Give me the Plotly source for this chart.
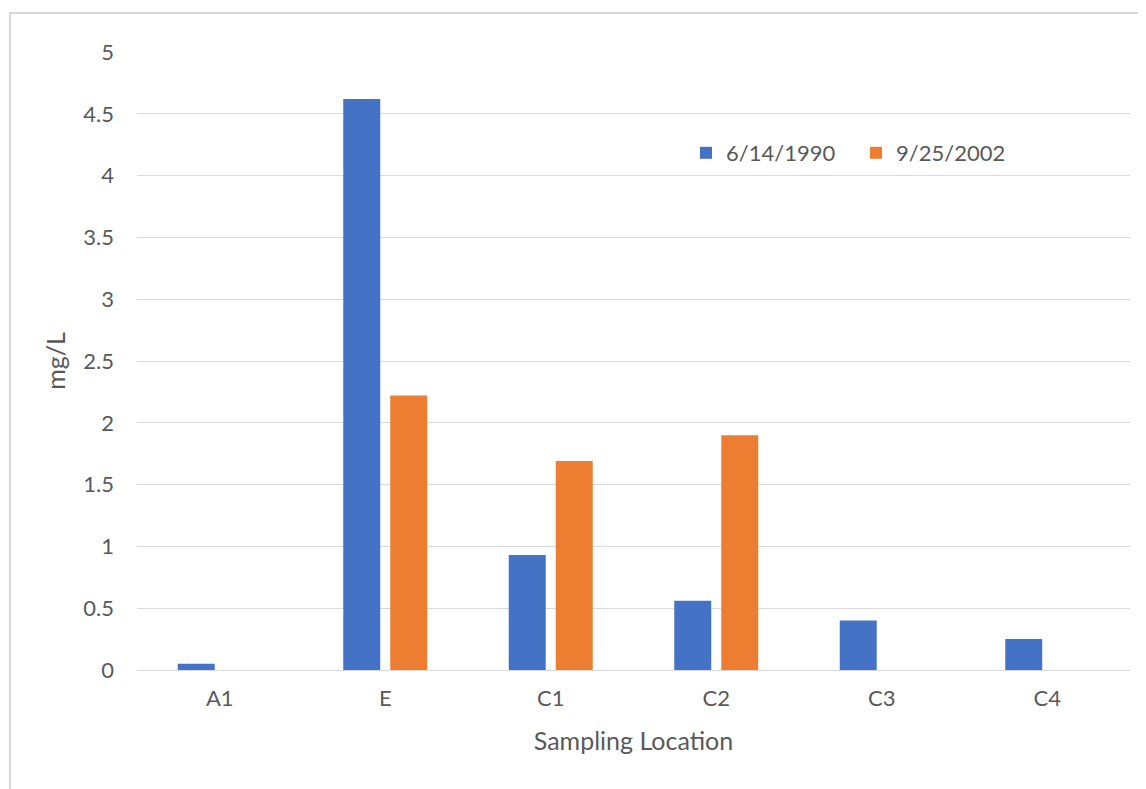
import plotly.graph_objects as go

categories = ["A1", "E", "C1", "C2", "C3", "C4"]
series_1990 = [0.05, 4.62, 0.93, 0.56, 0.40, 0.25]
series_2002 = [None, 2.22, 1.69, 1.90, None, None]
series_names = ["6/14/1990", "9/25/2002"]
y_ticks = [0, 0.5, 1, 1.5, 2, 2.5, 3, 3.5, 4, 4.5, 5]
y_tick_labels = ["0", "0.5", "1", "1.5", "2", "2.5", "3", "3.5", "4", "4.5", "5"]

# page has an 8px body margin; figure is sized/positioned to account for it
OFF = 8
W, H = 1146 - OFF, 789 - OFF
L, R, T, B = 137 - OFF, 16, 52 - OFF, 119
pw, ph = W - L - R, H - T - B

FONT = "Lato"
TXT = "#595959"
GRID = "#d9d9d9"

fig = go.Figure()
fig.add_trace(go.Bar(x=categories, y=series_1990, name=series_names[0],
                     marker=dict(color="#4472C4", line=dict(width=0))))
fig.add_trace(go.Bar(x=categories, y=series_2002, name=series_names[1],
                     marker=dict(color="#ED7D31", line=dict(width=0))))

def px_to_paper_x(px):
    # px in reference-screen coordinates
    return (px - OFF - L) / pw

def px_to_paper_y(py):
    return (H - B - (py - OFF)) / ph

fig.update_layout(
    width=W, height=H,
    margin=dict(l=L, r=R, t=T, b=B, autoexpand=False),
    paper_bgcolor="white", plot_bgcolor="white",
    barmode="group", bargap=0.432, bargroupgap=0.213,
    font=dict(family=FONT, color=TXT, size=22),
    showlegend=True,
    legend=dict(orientation="h", x=px_to_paper_x(686), y=px_to_paper_y(153),
                xanchor="left", yanchor="middle", bgcolor="rgba(0,0,0,0)",
                font=dict(family=FONT, size=22, color=TXT),
                itemwidth=30, entrywidth=125, traceorder="normal"),
    xaxis=dict(showgrid=False, showline=False, ticks="", zeroline=False,
               ticklabelstandoff=13, tickfont=dict(size=22, color=TXT),
               title=dict(text="Sampling Location", font=dict(size=25, color=TXT), standoff=22),
               automargin=False),
    yaxis=dict(range=[0, 5], tickvals=y_ticks, ticktext=y_tick_labels,
               showgrid=True, gridcolor=GRID, gridwidth=1.3,
               zeroline=True, zerolinecolor=GRID, zerolinewidth=1.3,
               showline=False, ticks="", ticklabelstandoff=22,
               tickfont=dict(size=22, color=TXT),
               title=dict(text="mg/L", font=dict(size=25, color=TXT), standoff=10),
               automargin=False),
    shapes=[dict(type="rect", xref="paper", yref="paper",
                 x0=px_to_paper_x(10), x1=px_to_paper_x(1200),
                 y0=px_to_paper_y(850), y1=px_to_paper_y(13),
                 line=dict(color=GRID, width=2), fillcolor="rgba(0,0,0,0)",
                 layer="below")],
)

fig.write_html("out.html")
